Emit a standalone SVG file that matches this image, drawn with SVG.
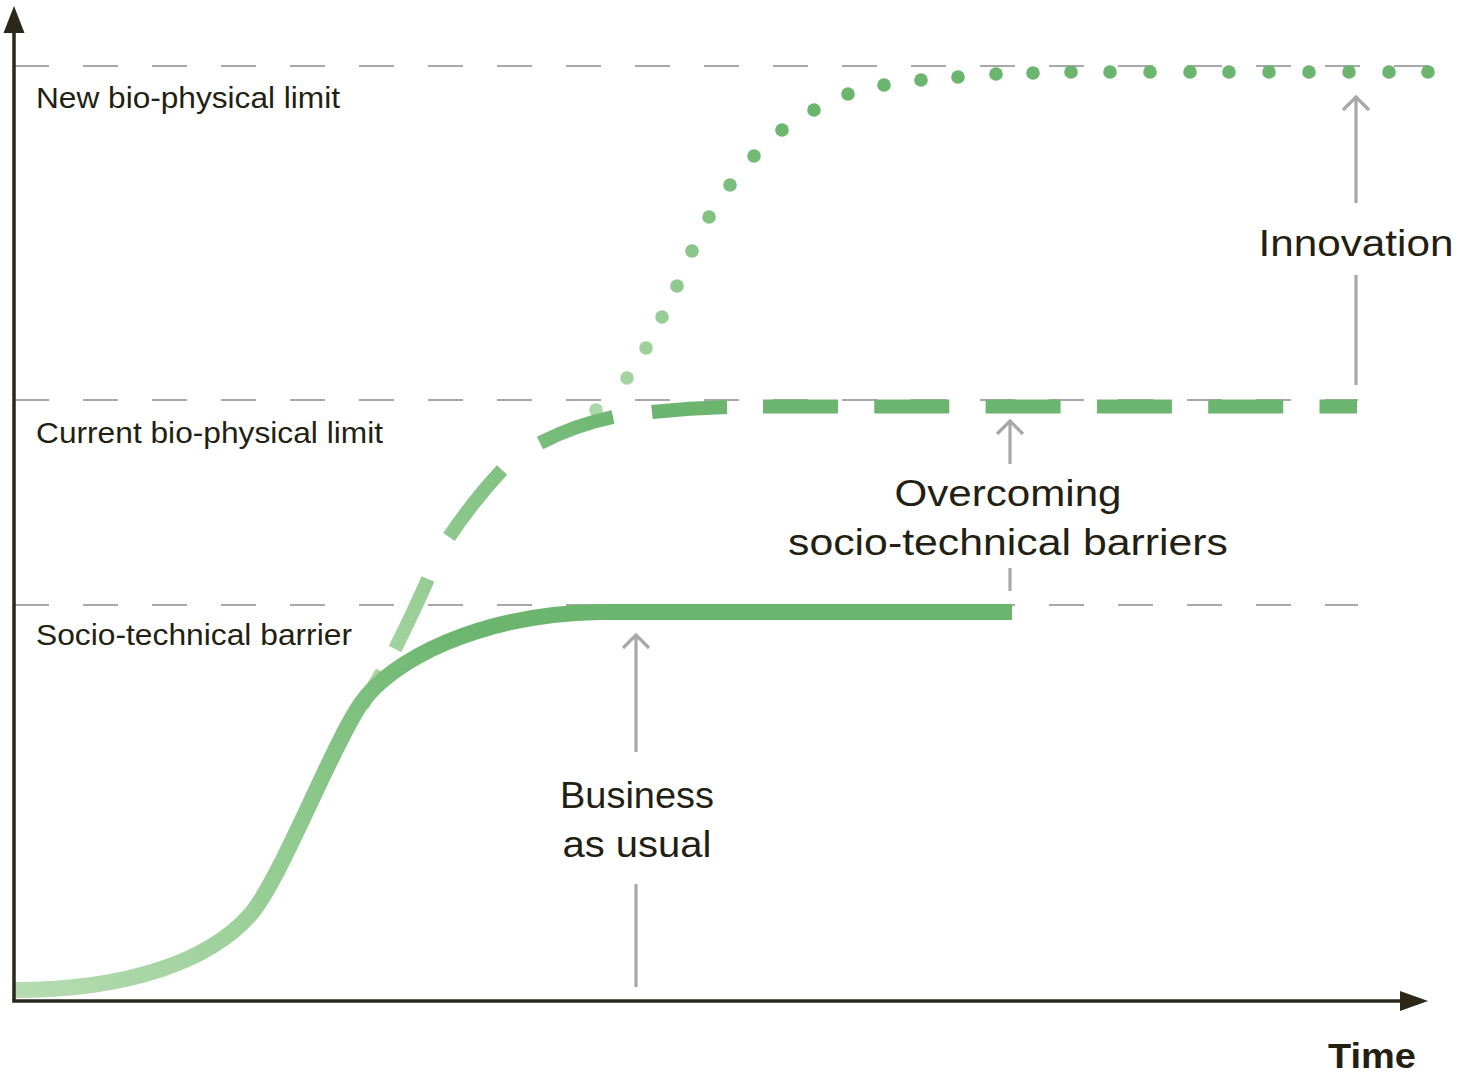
<svg xmlns="http://www.w3.org/2000/svg" width="1461" height="1074" viewBox="0 0 1461 1074">
<style>
.grid{stroke:#a8a8a8;stroke-width:2;fill:none;stroke-dasharray:35 34}
.axis{stroke:#2b2719;stroke-width:3.5;fill:none}
.axhead{fill:#2b2719}
.ptr{stroke:#a8a8a8;stroke-width:3.2;fill:none;stroke-linecap:butt}
.lbl{font-family:"Liberation Sans",Arial,sans-serif;font-size:29px;fill:#231f13}
.big{font-family:"Liberation Sans",Arial,sans-serif;font-size:37px;fill:#231f13;text-anchor:middle}
.time{font-family:"Liberation Sans",Arial,sans-serif;font-size:35px;font-weight:bold;fill:#231f13}
.dot{fill:url(#gDot)}
</style>
<defs>
<linearGradient id="gSolid" gradientUnits="userSpaceOnUse" x1="20" y1="990" x2="470" y2="630">
<stop offset="0" stop-color="#b6dcb2"/>
<stop offset="0.5" stop-color="#93cc91"/>
<stop offset="1" stop-color="#6bb56f"/>
</linearGradient>
<linearGradient id="gDash" gradientUnits="userSpaceOnUse" x1="360" y1="700" x2="640" y2="410">
<stop offset="0" stop-color="#abd8a7"/>
<stop offset="1" stop-color="#6bb56f"/>
</linearGradient>
<linearGradient id="gDot" gradientUnits="userSpaceOnUse" x1="600" y1="410" x2="800" y2="130">
<stop offset="0" stop-color="#abd8a7"/>
<stop offset="1" stop-color="#6bb56f"/>
</linearGradient>
</defs>

<g id="gridlines">
<line class="grid" x1="14" y1="66" x2="1432" y2="66"/>
<line class="grid" x1="14" y1="400" x2="1358" y2="400"/>
<line class="grid" x1="14" y1="605" x2="1358" y2="605"/>
</g>

<g id="curve-innovation">
<circle class="dot" cx="596" cy="410" r="6.8"/>
<circle class="dot" cx="627" cy="378" r="6.8"/>
<circle class="dot" cx="646" cy="348" r="6.8"/>
<circle class="dot" cx="662" cy="317" r="6.8"/>
<circle class="dot" cx="677" cy="286" r="6.8"/>
<circle class="dot" cx="692" cy="251" r="6.8"/>
<circle class="dot" cx="709" cy="217" r="6.8"/>
<circle class="dot" cx="730" cy="185" r="6.8"/>
<circle class="dot" cx="754" cy="156" r="6.8"/>
<circle class="dot" cx="782" cy="130" r="6.8"/>
<circle class="dot" cx="814" cy="110" r="6.8"/>
<circle class="dot" cx="848" cy="94" r="6.8"/>
<circle class="dot" cx="884" cy="85" r="6.8"/>
<circle class="dot" cx="921" cy="80" r="6.8"/>
<circle class="dot" cx="958" cy="77" r="6.8"/>
<circle class="dot" cx="996" cy="74" r="6.8"/>
<circle class="dot" cx="1033" cy="73" r="6.8"/>
<circle class="dot" cx="1071" cy="72" r="6.8"/>
<circle class="dot" cx="1110" cy="72" r="6.8"/>
<circle class="dot" cx="1150" cy="72" r="6.8"/>
<circle class="dot" cx="1190" cy="72" r="6.8"/>
<circle class="dot" cx="1229" cy="72" r="6.8"/>
<circle class="dot" cx="1269" cy="72" r="6.8"/>
<circle class="dot" cx="1309" cy="72" r="6.8"/>
<circle class="dot" cx="1349" cy="72" r="6.8"/>
<circle class="dot" cx="1389" cy="72" r="6.8"/>
<circle class="dot" cx="1428" cy="72" r="6.8"/>
</g>

<g id="curve-overcoming">
<path d="M362,706 L382,672 M395,649 Q413,613 428,579 M449,537 Q474,500 502,470 M540,443 Q575,425 613,417 M652,412 Q690,408 727,407" fill="none" stroke="url(#gDash)" stroke-width="14"/>
<path d="M763,406.5 L1357,406.5" fill="none" stroke="#6bb56f" stroke-width="14" stroke-dasharray="75 36.3"/>
</g>

<g id="curve-business">
<path d="M14,990 C130,990 210,960 250,915 C280,881 330,750 360,705 C390,660 480,614 600,612 L1012,612" fill="none" stroke="url(#gSolid)" stroke-width="16"/>
</g>

<g id="axes">
<line class="axis" x1="14" y1="30" x2="14" y2="1001"/>
<line class="axis" x1="12.3" y1="1001" x2="1402" y2="1001"/>
<polygon class="axhead" points="14,6 3.5,33 24.5,33"/>
<polygon class="axhead" points="1428,1001 1400,991 1400,1011"/>
</g>

<g id="connectors">
<path class="ptr" d="M636,987 L636,884 M636,752 L636,635 M623,648 L636,635 L649,648"/>
<path class="ptr" d="M1010,591 L1010,568 M1010,464 L1010,421 M997,434 L1010,421 L1023,434"/>
<path class="ptr" d="M1356,385 L1356,275 M1356,203 L1356,97 M1343,110 L1356,97 L1369,110"/>
</g>

<g id="label-new">
<text class="lbl" x="36" y="108" textLength="304" lengthAdjust="spacingAndGlyphs">New bio-physical limit</text>
</g>
<g id="label-current">
<text class="lbl" x="36" y="443" textLength="347" lengthAdjust="spacingAndGlyphs">Current bio-physical limit</text>
</g>
<g id="label-socio">
<text class="lbl" x="36" y="645" textLength="316" lengthAdjust="spacingAndGlyphs">Socio-technical barrier</text>
</g>
<g id="label-innovation">
<text class="big" x="1356" y="256" textLength="195" lengthAdjust="spacingAndGlyphs">Innovation</text>
</g>
<g id="label-overcoming">
<text class="big" x="1008" y="506" textLength="227" lengthAdjust="spacingAndGlyphs">Overcoming</text>
<text class="big" x="1008" y="555" textLength="440" lengthAdjust="spacingAndGlyphs">socio-technical barriers</text>
</g>
<g id="label-business">
<text class="big" x="637" y="808" textLength="154" lengthAdjust="spacingAndGlyphs">Business</text>
<text class="big" x="637" y="857" textLength="149" lengthAdjust="spacingAndGlyphs">as usual</text>
</g>
<g id="label-time">
<text class="time" x="1328" y="1068" textLength="88" lengthAdjust="spacingAndGlyphs">Time</text>
</g>
</svg>
